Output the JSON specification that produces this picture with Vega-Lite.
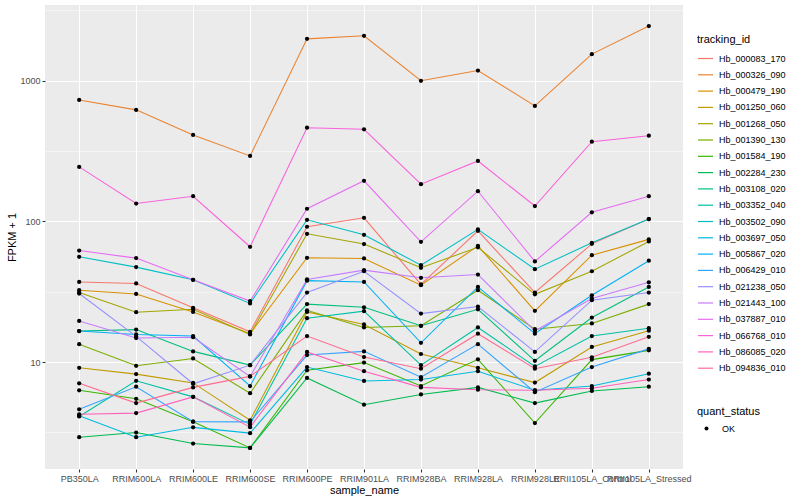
{
"$schema":"https://vega.github.io/schema/vega-lite/v6.json",
"width":638,"height":464,
"autosize":{"type":"none"},
"padding":{"left":45,"top":5,"right":117,"bottom":31},
"background":"white",
"config":{
 "view":{"fill":"#EBEBEB","stroke":null},
 "font":"Liberation Sans",
 "axis":{"gridColor":"white","domain":false,"tickColor":"#333333","tickSize":3,"tickWidth":1.07,"labelColor":"#4D4D4D","labelFontSize":9,"titleFontSize":11,"titleFontWeight":"normal","titleColor":"black","labelPadding":2},
 "legend":{"titleFontSize":11,"titleFontWeight":"normal","titleColor":"black","labelFontSize":9,"labelColor":"black"}
},
"datasets":{"d":[
{"tracking_id":"Hb_000083_170","sample_name":"PB350LA","fpkm":37.1,"quant_status":"OK"},
{"tracking_id":"Hb_000083_170","sample_name":"RRIM600LA","fpkm":36.2,"quant_status":"OK"},
{"tracking_id":"Hb_000083_170","sample_name":"RRIM600LE","fpkm":24.3,"quant_status":"OK"},
{"tracking_id":"Hb_000083_170","sample_name":"RRIM600SE","fpkm":16.4,"quant_status":"OK"},
{"tracking_id":"Hb_000083_170","sample_name":"RRIM600PE","fpkm":91.6,"quant_status":"OK"},
{"tracking_id":"Hb_000083_170","sample_name":"RRIM901LA","fpkm":106,"quant_status":"OK"},
{"tracking_id":"Hb_000083_170","sample_name":"RRIM928BA","fpkm":35.6,"quant_status":"OK"},
{"tracking_id":"Hb_000083_170","sample_name":"RRIM928LA","fpkm":85.7,"quant_status":"OK"},
{"tracking_id":"Hb_000083_170","sample_name":"RRIM928LE","fpkm":31.2,"quant_status":"OK"},
{"tracking_id":"Hb_000083_170","sample_name":"RRII105LA_Control","fpkm":69.2,"quant_status":"OK"},
{"tracking_id":"Hb_000083_170","sample_name":"RRII105LA_Stressed","fpkm":103.8,"quant_status":"OK"},
{"tracking_id":"Hb_000326_090","sample_name":"PB350LA","fpkm":731,"quant_status":"OK"},
{"tracking_id":"Hb_000326_090","sample_name":"RRIM600LA","fpkm":621,"quant_status":"OK"},
{"tracking_id":"Hb_000326_090","sample_name":"RRIM600LE","fpkm":412,"quant_status":"OK"},
{"tracking_id":"Hb_000326_090","sample_name":"RRIM600SE","fpkm":292,"quant_status":"OK"},
{"tracking_id":"Hb_000326_090","sample_name":"RRIM600PE","fpkm":1987,"quant_status":"OK"},
{"tracking_id":"Hb_000326_090","sample_name":"RRIM901LA","fpkm":2089,"quant_status":"OK"},
{"tracking_id":"Hb_000326_090","sample_name":"RRIM928BA","fpkm":1000,"quant_status":"OK"},
{"tracking_id":"Hb_000326_090","sample_name":"RRIM928LA","fpkm":1183,"quant_status":"OK"},
{"tracking_id":"Hb_000326_090","sample_name":"RRIM928LE","fpkm":663,"quant_status":"OK"},
{"tracking_id":"Hb_000326_090","sample_name":"RRII105LA_Control","fpkm":1547,"quant_status":"OK"},
{"tracking_id":"Hb_000326_090","sample_name":"RRII105LA_Stressed","fpkm":2449,"quant_status":"OK"},
{"tracking_id":"Hb_000479_190","sample_name":"PB350LA","fpkm":32.4,"quant_status":"OK"},
{"tracking_id":"Hb_000479_190","sample_name":"RRIM600LA","fpkm":30.5,"quant_status":"OK"},
{"tracking_id":"Hb_000479_190","sample_name":"RRIM600LE","fpkm":22.7,"quant_status":"OK"},
{"tracking_id":"Hb_000479_190","sample_name":"RRIM600SE","fpkm":15.9,"quant_status":"OK"},
{"tracking_id":"Hb_000479_190","sample_name":"RRIM600PE","fpkm":55.1,"quant_status":"OK"},
{"tracking_id":"Hb_000479_190","sample_name":"RRIM901LA","fpkm":54.5,"quant_status":"OK"},
{"tracking_id":"Hb_000479_190","sample_name":"RRIM928BA","fpkm":35.2,"quant_status":"OK"},
{"tracking_id":"Hb_000479_190","sample_name":"RRIM928LA","fpkm":67,"quant_status":"OK"},
{"tracking_id":"Hb_000479_190","sample_name":"RRIM928LE","fpkm":23.1,"quant_status":"OK"},
{"tracking_id":"Hb_000479_190","sample_name":"RRII105LA_Control","fpkm":57.5,"quant_status":"OK"},
{"tracking_id":"Hb_000479_190","sample_name":"RRII105LA_Stressed","fpkm":74.5,"quant_status":"OK"},
{"tracking_id":"Hb_001250_060","sample_name":"PB350LA","fpkm":9.1,"quant_status":"OK"},
{"tracking_id":"Hb_001250_060","sample_name":"RRIM600LA","fpkm":8.2,"quant_status":"OK"},
{"tracking_id":"Hb_001250_060","sample_name":"RRIM600LE","fpkm":7.1,"quant_status":"OK"},
{"tracking_id":"Hb_001250_060","sample_name":"RRIM600SE","fpkm":3.85,"quant_status":"OK"},
{"tracking_id":"Hb_001250_060","sample_name":"RRIM600PE","fpkm":22.7,"quant_status":"OK"},
{"tracking_id":"Hb_001250_060","sample_name":"RRIM901LA","fpkm":18.5,"quant_status":"OK"},
{"tracking_id":"Hb_001250_060","sample_name":"RRIM928BA","fpkm":11.4,"quant_status":"OK"},
{"tracking_id":"Hb_001250_060","sample_name":"RRIM928LA","fpkm":9.1,"quant_status":"OK"},
{"tracking_id":"Hb_001250_060","sample_name":"RRIM928LE","fpkm":7.14,"quant_status":"OK"},
{"tracking_id":"Hb_001250_060","sample_name":"RRII105LA_Control","fpkm":12.8,"quant_status":"OK"},
{"tracking_id":"Hb_001250_060","sample_name":"RRII105LA_Stressed","fpkm":16.7,"quant_status":"OK"},
{"tracking_id":"Hb_001268_050","sample_name":"PB350LA","fpkm":31.2,"quant_status":"OK"},
{"tracking_id":"Hb_001268_050","sample_name":"RRIM600LA","fpkm":22.6,"quant_status":"OK"},
{"tracking_id":"Hb_001268_050","sample_name":"RRIM600LE","fpkm":23.7,"quant_status":"OK"},
{"tracking_id":"Hb_001268_050","sample_name":"RRIM600SE","fpkm":15.7,"quant_status":"OK"},
{"tracking_id":"Hb_001268_050","sample_name":"RRIM600PE","fpkm":81.6,"quant_status":"OK"},
{"tracking_id":"Hb_001268_050","sample_name":"RRIM901LA","fpkm":69,"quant_status":"OK"},
{"tracking_id":"Hb_001268_050","sample_name":"RRIM928BA","fpkm":46.8,"quant_status":"OK"},
{"tracking_id":"Hb_001268_050","sample_name":"RRIM928LA","fpkm":65.4,"quant_status":"OK"},
{"tracking_id":"Hb_001268_050","sample_name":"RRIM928LE","fpkm":30.3,"quant_status":"OK"},
{"tracking_id":"Hb_001268_050","sample_name":"RRII105LA_Control","fpkm":44.2,"quant_status":"OK"},
{"tracking_id":"Hb_001268_050","sample_name":"RRII105LA_Stressed","fpkm":72,"quant_status":"OK"},
{"tracking_id":"Hb_001390_130","sample_name":"PB350LA","fpkm":13.4,"quant_status":"OK"},
{"tracking_id":"Hb_001390_130","sample_name":"RRIM600LA","fpkm":9.4,"quant_status":"OK"},
{"tracking_id":"Hb_001390_130","sample_name":"RRIM600LE","fpkm":10.6,"quant_status":"OK"},
{"tracking_id":"Hb_001390_130","sample_name":"RRIM600SE","fpkm":6.0,"quant_status":"OK"},
{"tracking_id":"Hb_001390_130","sample_name":"RRIM600PE","fpkm":23.3,"quant_status":"OK"},
{"tracking_id":"Hb_001390_130","sample_name":"RRIM901LA","fpkm":17.6,"quant_status":"OK"},
{"tracking_id":"Hb_001390_130","sample_name":"RRIM928BA","fpkm":18.1,"quant_status":"OK"},
{"tracking_id":"Hb_001390_130","sample_name":"RRIM928LA","fpkm":32.4,"quant_status":"OK"},
{"tracking_id":"Hb_001390_130","sample_name":"RRIM928LE","fpkm":17.1,"quant_status":"OK"},
{"tracking_id":"Hb_001390_130","sample_name":"RRII105LA_Control","fpkm":18.8,"quant_status":"OK"},
{"tracking_id":"Hb_001390_130","sample_name":"RRII105LA_Stressed","fpkm":25.8,"quant_status":"OK"},
{"tracking_id":"Hb_001584_190","sample_name":"PB350LA","fpkm":6.29,"quant_status":"OK"},
{"tracking_id":"Hb_001584_190","sample_name":"RRIM600LA","fpkm":5.47,"quant_status":"OK"},
{"tracking_id":"Hb_001584_190","sample_name":"RRIM600LE","fpkm":3.76,"quant_status":"OK"},
{"tracking_id":"Hb_001584_190","sample_name":"RRIM600SE","fpkm":2.45,"quant_status":"OK"},
{"tracking_id":"Hb_001584_190","sample_name":"RRIM600PE","fpkm":8.73,"quant_status":"OK"},
{"tracking_id":"Hb_001584_190","sample_name":"RRIM901LA","fpkm":9.9,"quant_status":"OK"},
{"tracking_id":"Hb_001584_190","sample_name":"RRIM928BA","fpkm":6.75,"quant_status":"OK"},
{"tracking_id":"Hb_001584_190","sample_name":"RRIM928LA","fpkm":10.45,"quant_status":"OK"},
{"tracking_id":"Hb_001584_190","sample_name":"RRIM928LE","fpkm":3.68,"quant_status":"OK"},
{"tracking_id":"Hb_001584_190","sample_name":"RRII105LA_Control","fpkm":10.4,"quant_status":"OK"},
{"tracking_id":"Hb_001584_190","sample_name":"RRII105LA_Stressed","fpkm":12.1,"quant_status":"OK"},
{"tracking_id":"Hb_002284_230","sample_name":"PB350LA","fpkm":2.92,"quant_status":"OK"},
{"tracking_id":"Hb_002284_230","sample_name":"RRIM600LA","fpkm":3.15,"quant_status":"OK"},
{"tracking_id":"Hb_002284_230","sample_name":"RRIM600LE","fpkm":2.63,"quant_status":"OK"},
{"tracking_id":"Hb_002284_230","sample_name":"RRIM600SE","fpkm":2.45,"quant_status":"OK"},
{"tracking_id":"Hb_002284_230","sample_name":"RRIM600PE","fpkm":7.7,"quant_status":"OK"},
{"tracking_id":"Hb_002284_230","sample_name":"RRIM901LA","fpkm":4.97,"quant_status":"OK"},
{"tracking_id":"Hb_002284_230","sample_name":"RRIM928BA","fpkm":5.88,"quant_status":"OK"},
{"tracking_id":"Hb_002284_230","sample_name":"RRIM928LA","fpkm":6.6,"quant_status":"OK"},
{"tracking_id":"Hb_002284_230","sample_name":"RRIM928LE","fpkm":5.1,"quant_status":"OK"},
{"tracking_id":"Hb_002284_230","sample_name":"RRII105LA_Control","fpkm":6.22,"quant_status":"OK"},
{"tracking_id":"Hb_002284_230","sample_name":"RRII105LA_Stressed","fpkm":6.67,"quant_status":"OK"},
{"tracking_id":"Hb_003108_020","sample_name":"PB350LA","fpkm":16.6,"quant_status":"OK"},
{"tracking_id":"Hb_003108_020","sample_name":"RRIM600LA","fpkm":17.0,"quant_status":"OK"},
{"tracking_id":"Hb_003108_020","sample_name":"RRIM600LE","fpkm":11.9,"quant_status":"OK"},
{"tracking_id":"Hb_003108_020","sample_name":"RRIM600SE","fpkm":9.5,"quant_status":"OK"},
{"tracking_id":"Hb_003108_020","sample_name":"RRIM600PE","fpkm":25.8,"quant_status":"OK"},
{"tracking_id":"Hb_003108_020","sample_name":"RRIM901LA","fpkm":24.5,"quant_status":"OK"},
{"tracking_id":"Hb_003108_020","sample_name":"RRIM928BA","fpkm":18.1,"quant_status":"OK"},
{"tracking_id":"Hb_003108_020","sample_name":"RRIM928LA","fpkm":23.7,"quant_status":"OK"},
{"tracking_id":"Hb_003108_020","sample_name":"RRIM928LE","fpkm":10.2,"quant_status":"OK"},
{"tracking_id":"Hb_003108_020","sample_name":"RRII105LA_Control","fpkm":20.7,"quant_status":"OK"},
{"tracking_id":"Hb_003108_020","sample_name":"RRII105LA_Stressed","fpkm":34.2,"quant_status":"OK"},
{"tracking_id":"Hb_003352_040","sample_name":"PB350LA","fpkm":4.1,"quant_status":"OK"},
{"tracking_id":"Hb_003352_040","sample_name":"RRIM600LA","fpkm":7.35,"quant_status":"OK"},
{"tracking_id":"Hb_003352_040","sample_name":"RRIM600LE","fpkm":5.65,"quant_status":"OK"},
{"tracking_id":"Hb_003352_040","sample_name":"RRIM600SE","fpkm":3.6,"quant_status":"OK"},
{"tracking_id":"Hb_003352_040","sample_name":"RRIM600PE","fpkm":20.5,"quant_status":"OK"},
{"tracking_id":"Hb_003352_040","sample_name":"RRIM901LA","fpkm":23.0,"quant_status":"OK"},
{"tracking_id":"Hb_003352_040","sample_name":"RRIM928BA","fpkm":9.5,"quant_status":"OK"},
{"tracking_id":"Hb_003352_040","sample_name":"RRIM928LA","fpkm":17.6,"quant_status":"OK"},
{"tracking_id":"Hb_003352_040","sample_name":"RRIM928LE","fpkm":9.3,"quant_status":"OK"},
{"tracking_id":"Hb_003352_040","sample_name":"RRII105LA_Control","fpkm":15.3,"quant_status":"OK"},
{"tracking_id":"Hb_003352_040","sample_name":"RRII105LA_Stressed","fpkm":17.4,"quant_status":"OK"},
{"tracking_id":"Hb_003502_090","sample_name":"PB350LA","fpkm":56,"quant_status":"OK"},
{"tracking_id":"Hb_003502_090","sample_name":"RRIM600LA","fpkm":47.3,"quant_status":"OK"},
{"tracking_id":"Hb_003502_090","sample_name":"RRIM600LE","fpkm":38.4,"quant_status":"OK"},
{"tracking_id":"Hb_003502_090","sample_name":"RRIM600SE","fpkm":26.1,"quant_status":"OK"},
{"tracking_id":"Hb_003502_090","sample_name":"RRIM600PE","fpkm":102.6,"quant_status":"OK"},
{"tracking_id":"Hb_003502_090","sample_name":"RRIM901LA","fpkm":80.3,"quant_status":"OK"},
{"tracking_id":"Hb_003502_090","sample_name":"RRIM928BA","fpkm":48.8,"quant_status":"OK"},
{"tracking_id":"Hb_003502_090","sample_name":"RRIM928LA","fpkm":87.7,"quant_status":"OK"},
{"tracking_id":"Hb_003502_090","sample_name":"RRIM928LE","fpkm":45.7,"quant_status":"OK"},
{"tracking_id":"Hb_003502_090","sample_name":"RRII105LA_Control","fpkm":70.4,"quant_status":"OK"},
{"tracking_id":"Hb_003502_090","sample_name":"RRII105LA_Stressed","fpkm":103.8,"quant_status":"OK"},
{"tracking_id":"Hb_003697_050","sample_name":"PB350LA","fpkm":4.15,"quant_status":"OK"},
{"tracking_id":"Hb_003697_050","sample_name":"RRIM600LA","fpkm":2.92,"quant_status":"OK"},
{"tracking_id":"Hb_003697_050","sample_name":"RRIM600LE","fpkm":3.43,"quant_status":"OK"},
{"tracking_id":"Hb_003697_050","sample_name":"RRIM600SE","fpkm":3.12,"quant_status":"OK"},
{"tracking_id":"Hb_003697_050","sample_name":"RRIM600PE","fpkm":9.2,"quant_status":"OK"},
{"tracking_id":"Hb_003697_050","sample_name":"RRIM901LA","fpkm":7.33,"quant_status":"OK"},
{"tracking_id":"Hb_003697_050","sample_name":"RRIM928BA","fpkm":7.5,"quant_status":"OK"},
{"tracking_id":"Hb_003697_050","sample_name":"RRIM928LA","fpkm":8.6,"quant_status":"OK"},
{"tracking_id":"Hb_003697_050","sample_name":"RRIM928LE","fpkm":6.29,"quant_status":"OK"},
{"tracking_id":"Hb_003697_050","sample_name":"RRII105LA_Control","fpkm":6.75,"quant_status":"OK"},
{"tracking_id":"Hb_003697_050","sample_name":"RRII105LA_Stressed","fpkm":8.26,"quant_status":"OK"},
{"tracking_id":"Hb_005867_020","sample_name":"PB350LA","fpkm":16.6,"quant_status":"OK"},
{"tracking_id":"Hb_005867_020","sample_name":"RRIM600LA","fpkm":15.7,"quant_status":"OK"},
{"tracking_id":"Hb_005867_020","sample_name":"RRIM600LE","fpkm":15.3,"quant_status":"OK"},
{"tracking_id":"Hb_005867_020","sample_name":"RRIM600SE","fpkm":6.75,"quant_status":"OK"},
{"tracking_id":"Hb_005867_020","sample_name":"RRIM600PE","fpkm":37.9,"quant_status":"OK"},
{"tracking_id":"Hb_005867_020","sample_name":"RRIM901LA","fpkm":37.1,"quant_status":"OK"},
{"tracking_id":"Hb_005867_020","sample_name":"RRIM928BA","fpkm":13.7,"quant_status":"OK"},
{"tracking_id":"Hb_005867_020","sample_name":"RRIM928LA","fpkm":34.2,"quant_status":"OK"},
{"tracking_id":"Hb_005867_020","sample_name":"RRIM928LE","fpkm":15.9,"quant_status":"OK"},
{"tracking_id":"Hb_005867_020","sample_name":"RRII105LA_Control","fpkm":29.8,"quant_status":"OK"},
{"tracking_id":"Hb_005867_020","sample_name":"RRII105LA_Stressed","fpkm":52.5,"quant_status":"OK"},
{"tracking_id":"Hb_006429_010","sample_name":"PB350LA","fpkm":4.61,"quant_status":"OK"},
{"tracking_id":"Hb_006429_010","sample_name":"RRIM600LA","fpkm":6.67,"quant_status":"OK"},
{"tracking_id":"Hb_006429_010","sample_name":"RRIM600LE","fpkm":3.76,"quant_status":"OK"},
{"tracking_id":"Hb_006429_010","sample_name":"RRIM600SE","fpkm":3.75,"quant_status":"OK"},
{"tracking_id":"Hb_006429_010","sample_name":"RRIM600PE","fpkm":11.2,"quant_status":"OK"},
{"tracking_id":"Hb_006429_010","sample_name":"RRIM901LA","fpkm":11.9,"quant_status":"OK"},
{"tracking_id":"Hb_006429_010","sample_name":"RRIM928BA","fpkm":7.8,"quant_status":"OK"},
{"tracking_id":"Hb_006429_010","sample_name":"RRIM928LA","fpkm":13.4,"quant_status":"OK"},
{"tracking_id":"Hb_006429_010","sample_name":"RRIM928LE","fpkm":6.1,"quant_status":"OK"},
{"tracking_id":"Hb_006429_010","sample_name":"RRII105LA_Control","fpkm":9.2,"quant_status":"OK"},
{"tracking_id":"Hb_006429_010","sample_name":"RRII105LA_Stressed","fpkm":12.4,"quant_status":"OK"},
{"tracking_id":"Hb_021238_050","sample_name":"PB350LA","fpkm":30.7,"quant_status":"OK"},
{"tracking_id":"Hb_021238_050","sample_name":"RRIM600LA","fpkm":15.2,"quant_status":"OK"},
{"tracking_id":"Hb_021238_050","sample_name":"RRIM600LE","fpkm":7.0,"quant_status":"OK"},
{"tracking_id":"Hb_021238_050","sample_name":"RRIM600SE","fpkm":9.5,"quant_status":"OK"},
{"tracking_id":"Hb_021238_050","sample_name":"RRIM600PE","fpkm":31.2,"quant_status":"OK"},
{"tracking_id":"Hb_021238_050","sample_name":"RRIM901LA","fpkm":44.2,"quant_status":"OK"},
{"tracking_id":"Hb_021238_050","sample_name":"RRIM928BA","fpkm":22.1,"quant_status":"OK"},
{"tracking_id":"Hb_021238_050","sample_name":"RRIM928LA","fpkm":24.8,"quant_status":"OK"},
{"tracking_id":"Hb_021238_050","sample_name":"RRIM928LE","fpkm":11.8,"quant_status":"OK"},
{"tracking_id":"Hb_021238_050","sample_name":"RRII105LA_Control","fpkm":27.5,"quant_status":"OK"},
{"tracking_id":"Hb_021238_050","sample_name":"RRII105LA_Stressed","fpkm":31.2,"quant_status":"OK"},
{"tracking_id":"Hb_021443_100","sample_name":"PB350LA","fpkm":19.6,"quant_status":"OK"},
{"tracking_id":"Hb_021443_100","sample_name":"RRIM600LA","fpkm":14.8,"quant_status":"OK"},
{"tracking_id":"Hb_021443_100","sample_name":"RRIM600LE","fpkm":15.0,"quant_status":"OK"},
{"tracking_id":"Hb_021443_100","sample_name":"RRIM600SE","fpkm":7.9,"quant_status":"OK"},
{"tracking_id":"Hb_021443_100","sample_name":"RRIM600PE","fpkm":38.7,"quant_status":"OK"},
{"tracking_id":"Hb_021443_100","sample_name":"RRIM901LA","fpkm":45,"quant_status":"OK"},
{"tracking_id":"Hb_021443_100","sample_name":"RRIM928BA","fpkm":39.7,"quant_status":"OK"},
{"tracking_id":"Hb_021443_100","sample_name":"RRIM928LA","fpkm":41.9,"quant_status":"OK"},
{"tracking_id":"Hb_021443_100","sample_name":"RRIM928LE","fpkm":16.6,"quant_status":"OK"},
{"tracking_id":"Hb_021443_100","sample_name":"RRII105LA_Control","fpkm":28.3,"quant_status":"OK"},
{"tracking_id":"Hb_021443_100","sample_name":"RRII105LA_Stressed","fpkm":36.9,"quant_status":"OK"},
{"tracking_id":"Hb_037887_010","sample_name":"PB350LA","fpkm":62,"quant_status":"OK"},
{"tracking_id":"Hb_037887_010","sample_name":"RRIM600LA","fpkm":54.8,"quant_status":"OK"},
{"tracking_id":"Hb_037887_010","sample_name":"RRIM600LE","fpkm":38.4,"quant_status":"OK"},
{"tracking_id":"Hb_037887_010","sample_name":"RRIM600SE","fpkm":27.1,"quant_status":"OK"},
{"tracking_id":"Hb_037887_010","sample_name":"RRIM600PE","fpkm":123,"quant_status":"OK"},
{"tracking_id":"Hb_037887_010","sample_name":"RRIM901LA","fpkm":194.5,"quant_status":"OK"},
{"tracking_id":"Hb_037887_010","sample_name":"RRIM928BA","fpkm":71.6,"quant_status":"OK"},
{"tracking_id":"Hb_037887_010","sample_name":"RRIM928LA","fpkm":164,"quant_status":"OK"},
{"tracking_id":"Hb_037887_010","sample_name":"RRIM928LE","fpkm":51.9,"quant_status":"OK"},
{"tracking_id":"Hb_037887_010","sample_name":"RRII105LA_Control","fpkm":116,"quant_status":"OK"},
{"tracking_id":"Hb_037887_010","sample_name":"RRII105LA_Stressed","fpkm":151,"quant_status":"OK"},
{"tracking_id":"Hb_066768_010","sample_name":"PB350LA","fpkm":244,"quant_status":"OK"},
{"tracking_id":"Hb_066768_010","sample_name":"RRIM600LA","fpkm":134,"quant_status":"OK"},
{"tracking_id":"Hb_066768_010","sample_name":"RRIM600LE","fpkm":151,"quant_status":"OK"},
{"tracking_id":"Hb_066768_010","sample_name":"RRIM600SE","fpkm":66,"quant_status":"OK"},
{"tracking_id":"Hb_066768_010","sample_name":"RRIM600PE","fpkm":464,"quant_status":"OK"},
{"tracking_id":"Hb_066768_010","sample_name":"RRIM901LA","fpkm":452,"quant_status":"OK"},
{"tracking_id":"Hb_066768_010","sample_name":"RRIM928BA","fpkm":184,"quant_status":"OK"},
{"tracking_id":"Hb_066768_010","sample_name":"RRIM928LA","fpkm":269,"quant_status":"OK"},
{"tracking_id":"Hb_066768_010","sample_name":"RRIM928LE","fpkm":128.6,"quant_status":"OK"},
{"tracking_id":"Hb_066768_010","sample_name":"RRII105LA_Control","fpkm":369,"quant_status":"OK"},
{"tracking_id":"Hb_066768_010","sample_name":"RRII105LA_Stressed","fpkm":407,"quant_status":"OK"},
{"tracking_id":"Hb_086085_020","sample_name":"PB350LA","fpkm":4.25,"quant_status":"OK"},
{"tracking_id":"Hb_086085_020","sample_name":"RRIM600LA","fpkm":4.33,"quant_status":"OK"},
{"tracking_id":"Hb_086085_020","sample_name":"RRIM600LE","fpkm":5.65,"quant_status":"OK"},
{"tracking_id":"Hb_086085_020","sample_name":"RRIM600SE","fpkm":3.44,"quant_status":"OK"},
{"tracking_id":"Hb_086085_020","sample_name":"RRIM600PE","fpkm":11.8,"quant_status":"OK"},
{"tracking_id":"Hb_086085_020","sample_name":"RRIM901LA","fpkm":8.6,"quant_status":"OK"},
{"tracking_id":"Hb_086085_020","sample_name":"RRIM928BA","fpkm":6.6,"quant_status":"OK"},
{"tracking_id":"Hb_086085_020","sample_name":"RRIM928LA","fpkm":6.35,"quant_status":"OK"},
{"tracking_id":"Hb_086085_020","sample_name":"RRIM928LE","fpkm":6.29,"quant_status":"OK"},
{"tracking_id":"Hb_086085_020","sample_name":"RRII105LA_Control","fpkm":6.5,"quant_status":"OK"},
{"tracking_id":"Hb_086085_020","sample_name":"RRII105LA_Stressed","fpkm":7.5,"quant_status":"OK"},
{"tracking_id":"Hb_094836_010","sample_name":"PB350LA","fpkm":7.05,"quant_status":"OK"},
{"tracking_id":"Hb_094836_010","sample_name":"RRIM600LA","fpkm":5.1,"quant_status":"OK"},
{"tracking_id":"Hb_094836_010","sample_name":"RRIM600LE","fpkm":6.6,"quant_status":"OK"},
{"tracking_id":"Hb_094836_010","sample_name":"RRIM600SE","fpkm":7.9,"quant_status":"OK"},
{"tracking_id":"Hb_094836_010","sample_name":"RRIM600PE","fpkm":15.3,"quant_status":"OK"},
{"tracking_id":"Hb_094836_010","sample_name":"RRIM901LA","fpkm":10.85,"quant_status":"OK"},
{"tracking_id":"Hb_094836_010","sample_name":"RRIM928BA","fpkm":8.96,"quant_status":"OK"},
{"tracking_id":"Hb_094836_010","sample_name":"RRIM928LA","fpkm":15.9,"quant_status":"OK"},
{"tracking_id":"Hb_094836_010","sample_name":"RRIM928LE","fpkm":8.96,"quant_status":"OK"},
{"tracking_id":"Hb_094836_010","sample_name":"RRII105LA_Control","fpkm":10.8,"quant_status":"OK"},
{"tracking_id":"Hb_094836_010","sample_name":"RRII105LA_Stressed","fpkm":15.1,"quant_status":"OK"}
]},
"data":{"name":"d"},
"encoding":{
 "x":{"field":"sample_name","type":"nominal","title":"sample_name",
  "sort":["PB350LA","RRIM600LA","RRIM600LE","RRIM600SE","RRIM600PE","RRIM901LA","RRIM928BA","RRIM928LA","RRIM928LE","RRII105LA_Control","RRII105LA_Stressed"],
  "scale":{"type":"point","padding":0.6},
  "axis":{"labelAngle":0,"grid":true,"gridWidth":1.07,"labelOverlap":false,"labelBound":false,"titlePadding":1,"labelPadding":2}},
 "y":{"field":"fpkm","type":"quantitative","title":"FPKM + 1",
  "scale":{"type":"log","domain":[1.734,3459],"nice":false,"zero":false},
  "axis":{"values":[3.1623,10,31.623,100,316.23,1000,3162.3],"format":"d",
   "labelExpr":"(datum.value == 10 || datum.value == 100 || datum.value == 1000) ? datum.label : ''",
   "gridWidth":{"condition":{"test":"datum.value == 10 || datum.value == 100 || datum.value == 1000","value":1.07},"value":0.53},
   "tickOpacity":{"condition":{"test":"datum.value == 10 || datum.value == 100 || datum.value == 1000","value":1},"value":0},
   "labelPadding":2,"titlePadding":2}}
},
"layer":[
 {"mark":{"type":"line","strokeWidth":1.07},
  "encoding":{
   "color":{"field":"tracking_id","type":"nominal",
    "scale":{"range":["#F8766D","#EA8331","#D89000","#C09B00","#A3A500","#7CAE00","#39B600","#00BB4E","#00BF7D","#00C1A3","#00BFC4","#00BAE0","#00B0F6","#35A2FF","#9590FF","#C77CFF","#E76BF3","#FA62DB","#FF62BC","#FF6C91"]},
    "legend":{"title":"tracking_id","orient":"none","legendX":652,"legendY":29,"symbolType":"stroke","symbolSize":225,"symbolStrokeWidth":1.2,"rowPadding":2.3,"labelOffset":5,"titlePadding":5}},
   "order":{"value":null}}},
 {"mark":{"type":"point","filled":true,"color":"black","size":18,"opacity":1},
  "encoding":{
   "shape":{"field":"quant_status","type":"nominal","scale":{"range":["circle"]},
    "legend":{"title":"quant_status","orient":"none","legendX":652,"legendY":401,"symbolFillColor":"black","symbolStrokeColor":"black","symbolSize":16,"symbolOffset":5,"labelOffset":11,"titlePadding":7}}}}
]
}
